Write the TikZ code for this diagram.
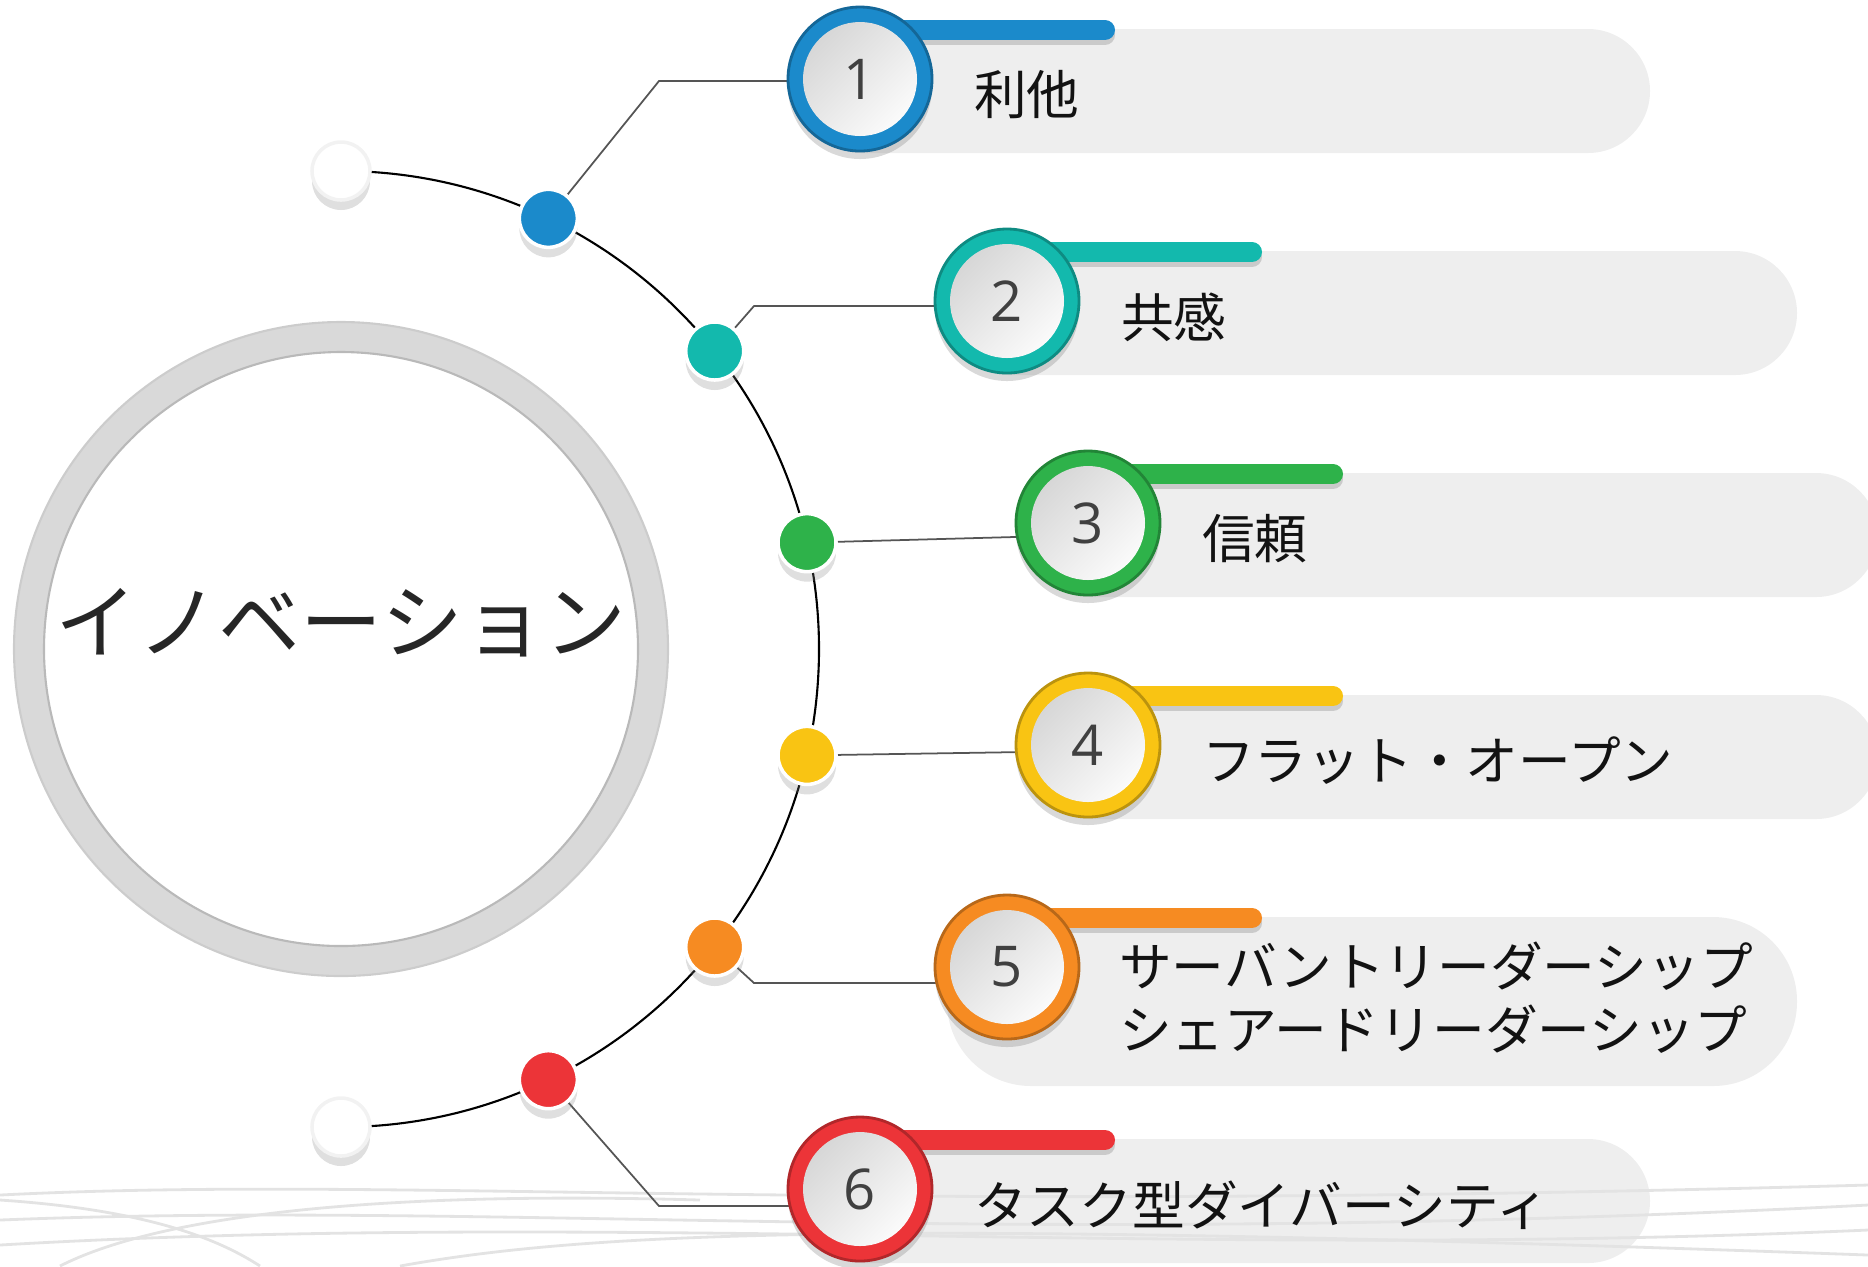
\documentclass[tikz,border=0pt]{standalone}
\usepackage{fontspec}
\newfontfamily\jpfont{Noto Sans CJK JP}
\newfontfamily\numfont{Open Sans}
\usetikzlibrary{positioning,shadows}
\pgfdeclarelayer{back}
\pgfsetlayers{back,main}

\definecolor{cblue}{HTML}{1B8ACB}
\definecolor{cteal}{HTML}{13B9AD}
\definecolor{cgreen}{HTML}{2EB24A}
\definecolor{cyellow}{HTML}{F9C413}
\definecolor{corange}{HTML}{F68B22}
\definecolor{cred}{HTML}{EC3438}
\definecolor{pillgray}{HTML}{EEEEEE}
\definecolor{ringgray}{HTML}{D9D9D9}
\definecolor{numgray}{HTML}{404040}
\definecolor{linkgray}{HTML}{555555}
\definecolor{titlegray}{HTML}{262626}

\begin{document}
\begin{tikzpicture}[
    dot/.style={circle,draw=white,line width=1pt,inner sep=0pt,minimum size=5.8mm,
      drop shadow={shadow xshift=0pt,shadow yshift=-1mm,opacity=0.25}},
    numring/.style={circle,inner sep=0pt,minimum size=14.4mm,fill=#1,draw=#1!75!black,line width=0.8pt,
      path picture={\shade[top color=gray!35,bottom color=white,shading angle=45]
        (path picture bounding box.center) circle (5.7mm);},
      drop shadow={shadow xshift=0pt,shadow yshift=-0.8mm,opacity=0.3},
      font=\numfont\fontsize{16pt}{16pt}\selectfont,text=numgray},
    item/.style={anchor=west,inner sep=0pt,align=left,text=black!93,
      font=\jpfont\fontsize{15pt}{18pt}\selectfont},
    pill/.style={fill=pillgray},
    bar/.style={line width=2mm,line cap=round},
    link/.style={draw=linkgray,line width=0.5pt},
    wave/.style={gray!22,line width=0.8pt}
    ]
    \useasboundingbox (0,0) rectangle (18.68,-12.66);

    % centre ring
    \node (main) [circle,draw=ringgray,line width=3mm,minimum size=62.4mm] at (3.41,-6.49) {};
    \draw[gray!55,line width=0.6pt] (main.center) circle (2.97);
    \draw[gray!40,line width=0.6pt] (main.center) circle (3.27);
    \node (title) [font=\jpfont\fontsize{23.3pt}{24pt}\selectfont,text=titlegray]
      at ([yshift=2.6mm]main.center) {イノベーション};

    % dots on the arc
    \node (w1) [dot,fill=white,draw=gray!10] at ([shift={(90:4.78)}]main.center) {};
    \node (d1) [dot,fill=cblue] at ([shift={(64.29:4.78)}]main.center) {};
    \node (d2) [dot,fill=cteal] at ([shift={(38.57:4.78)}]main.center) {};
    \node (d3) [dot,fill=cgreen] at ([shift={(12.86:4.78)}]main.center) {};
    \node (d4) [dot,fill=cyellow] at ([shift={(-12.86:4.78)}]main.center) {};
    \node (d5) [dot,fill=corange] at ([shift={(-38.57:4.78)}]main.center) {};
    \node (d6) [dot,fill=cred] at ([shift={(-64.29:4.78)}]main.center) {};
    \node (w2) [dot,fill=white,draw=gray!10] at ([shift={(-90:4.78)}]main.center) {};

    % numbered circles
    \node (n1) [numring=cblue] at (8.60,-0.79) {1};
    \node (n2) [numring=cteal] at (10.07,-3.01) {2};
    \node (n3) [numring=cgreen] at (10.88,-5.23) {3};
    \node (n4) [numring=cyellow] at (10.88,-7.45) {4};
    \node (n5) [numring=corange] at (10.07,-9.67) {5};
    \node (n6) [numring=cred] at (8.60,-11.89) {6};

    \node (l1) [item,right=4mm of n1,yshift=-1.6mm] {利他};
    \node (l2) [item,right=4mm of n2,yshift=-1.6mm] {共感};
    \node (l3) [item,right=4mm of n3,yshift=-1.6mm] {信頼};
    \node (l4) [item,right=4mm of n4,yshift=-1.6mm] {フラット・オープン};
    \node (l5) [item,right=3.8mm of n5,yshift=-3.1mm] {サーバントリーダーシップ\\シェアードリーダーシップ};
    \node (l6) [item,right=4mm of n6,yshift=-1.6mm] {タスク型ダイバーシティ};

    \coordinate (e1) at (6.59,-0.81);
    \coordinate (e2) at (7.54,-3.06);
    \coordinate (e5) at (7.54,-9.83);
    \coordinate (e6) at (6.59,-12.06);

    \begin{pgfonlayer}{back}
      % pills
      \fill[pill,rounded corners=6.2mm] ([xshift=-6mm,yshift=5mm]n1.center) rectangle ([xshift=79mm,yshift=-7.4mm]n1.center);
      \fill[pill,rounded corners=6.2mm] ([xshift=-6mm,yshift=5mm]n2.center) rectangle ([xshift=79mm,yshift=-7.4mm]n2.center);
      \fill[pill,rounded corners=6.2mm] ([xshift=-6mm,yshift=5mm]n3.center) rectangle ([xshift=79mm,yshift=-7.4mm]n3.center);
      \fill[pill,rounded corners=6.2mm] ([xshift=-6mm,yshift=5mm]n4.center) rectangle ([xshift=79mm,yshift=-7.4mm]n4.center);
      \fill[pill,rounded corners=8.4mm] ([xshift=-6mm,yshift=5mm]n5.center) rectangle ([xshift=79mm,yshift=-11.9mm]n5.center);
      \fill[pill,rounded corners=6.2mm] ([xshift=-6mm,yshift=5mm]n6.center) rectangle ([xshift=79mm,yshift=-7.4mm]n6.center);

      % waves
      \draw[wave] (0,-11.95) .. controls (4,-11.75) and (8,-12.15) .. (18.68,-11.85);
      \draw[wave] (0,-12.2) .. controls (5,-12.0) and (10,-12.5) .. (18.68,-12.05);
      \draw[wave] (0,-12.45) .. controls (6,-12.1) and (12,-12.6) .. (18.68,-12.3);
      \draw[wave] (0,-12.0) .. controls (1.5,-12.1) and (2.2,-12.4) .. (2.6,-12.66);
      \draw[wave] (0.6,-12.66) .. controls (1.5,-12.2) and (3.5,-11.9) .. (7,-12.0);
      \draw[wave] (4,-12.66) .. controls (6,-12.3) and (9,-12.2) .. (18.68,-12.55);

      % bars
      \draw[bar,black,opacity=0.15] ([yshift=4.4mm]n1.center) -- ([xshift=24.5mm,yshift=4.4mm]n1.center);
      \draw[bar,cblue] ([yshift=4.9mm]n1.center) -- ([xshift=24.5mm,yshift=4.9mm]n1.center);
      \draw[bar,black,opacity=0.15] ([yshift=4.4mm]n2.center) -- ([xshift=24.5mm,yshift=4.4mm]n2.center);
      \draw[bar,cteal] ([yshift=4.9mm]n2.center) -- ([xshift=24.5mm,yshift=4.9mm]n2.center);
      \draw[bar,black,opacity=0.15] ([yshift=4.4mm]n3.center) -- ([xshift=24.5mm,yshift=4.4mm]n3.center);
      \draw[bar,cgreen] ([yshift=4.9mm]n3.center) -- ([xshift=24.5mm,yshift=4.9mm]n3.center);
      \draw[bar,black,opacity=0.15] ([yshift=4.4mm]n4.center) -- ([xshift=24.5mm,yshift=4.4mm]n4.center);
      \draw[bar,cyellow] ([yshift=4.9mm]n4.center) -- ([xshift=24.5mm,yshift=4.9mm]n4.center);
      \draw[bar,black,opacity=0.15] ([yshift=4.4mm]n5.center) -- ([xshift=24.5mm,yshift=4.4mm]n5.center);
      \draw[bar,corange] ([yshift=4.9mm]n5.center) -- ([xshift=24.5mm,yshift=4.9mm]n5.center);
      \draw[bar,black,opacity=0.15] ([yshift=4.4mm]n6.center) -- ([xshift=24.5mm,yshift=4.4mm]n6.center);
      \draw[bar,cred] ([yshift=4.9mm]n6.center) -- ([xshift=24.5mm,yshift=4.9mm]n6.center);

      % links
      \draw[link] (d1) -- (e1) -- (e1 -| n1);
      \draw[link] (d2) -- (e2) -- (e2 -| n2);
      \draw[link] (d3) -- ([yshift=-1.2mm]n3.center);
      \draw[link] (d4) -- ([yshift=-0.6mm]n4.center);
      \draw[link] (d5) -- (e5) -- (e5 -| n5);
      \draw[link] (d6) -- (e6) -- (e6 -| n6);

      % arc
      \draw[line width=0.6pt] (w1) arc[start angle=90,end angle=-90,radius=4.78];
    \end{pgfonlayer}

  \end{tikzpicture}
\end{document}
